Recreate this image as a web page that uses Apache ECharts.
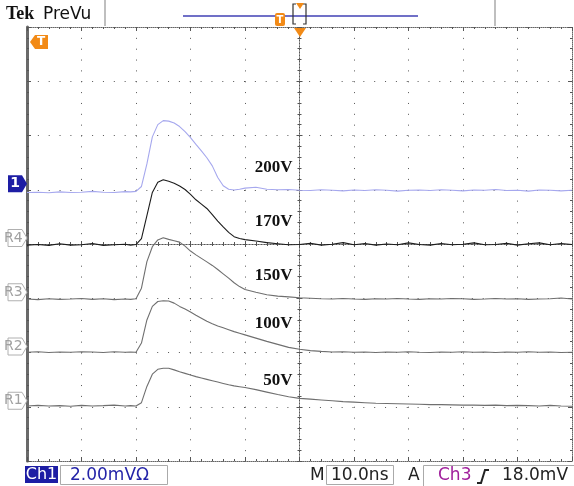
<!DOCTYPE html>
<html>
<head>
<meta charset="utf-8">
<script src="https://cdn.jsdelivr.net/npm/echarts@6/dist/echarts.min.js"></script>
<style>
html,body{margin:0;padding:0;background:#fff;}
#chart{width:574px;height:486px;}
</style>
</head>
<body>
<div id="chart"></div>
<script>
// Sample times (ns), relative to the trigger point at screen centre
const timeNs = [-50,-48,-46,-44,-42,-40,-38,-36,-34,-32,
  -31,-30,-29,-28,-27,-26,-25,-24,-23,-22,-21,-20,-19,-18,-17,-16,-15,-14,-13,-12,-11,-10,
  -8,-6,-4,-2,0,2,4,6,8,10,12,14,16,18,20,22,24,26,28,30,32,34,36,38,40,42,44,46,48,50];

// Pulse amplitude (mV) for each bias voltage
const pulse200V = [-0.10,-0.09,-0.11,-0.08,-0.10,-0.09,-0.06,-0.09,-0.10,-0.07,
  -0.08,-0.06,0.12,0.95,1.95,2.40,2.55,2.53,2.46,2.33,2.14,1.92,1.67,1.43,1.18,0.88,0.45,0.15,0.02,-0.01,0.02,0.06,
  0.09,0.02,0.00,0.01,-0.02,-0.03,0.00,-0.02,-0.04,-0.01,-0.03,0.00,-0.02,-0.05,-0.02,-0.01,-0.03,0.00,-0.02,-0.04,-0.01,-0.02,0.01,-0.03,-0.02,-0.05,-0.01,-0.02,-0.04,-0.02];

const pulse170V = [-0.04,-0.02,-0.05,0.01,-0.04,-0.03,0.02,-0.05,-0.03,-0.01,
  -0.04,-0.02,0.20,1.05,1.90,2.28,2.37,2.31,2.24,2.14,2.01,1.83,1.63,1.47,1.31,1.08,0.84,0.63,0.43,0.27,0.20,0.16,
  0.11,0.05,0.01,-0.03,-0.02,0.03,-0.04,-0.01,0.05,-0.03,0.02,-0.04,0.00,-0.03,0.04,-0.02,-0.04,0.02,-0.03,-0.01,0.04,-0.03,-0.02,0.03,-0.04,0.01,0.04,-0.03,0.02,-0.02];

const pulse150V = [-0.03,-0.05,-0.02,-0.04,-0.03,-0.01,-0.04,-0.02,-0.05,-0.03,
  -0.04,-0.02,0.37,1.35,1.90,2.15,2.23,2.17,2.12,2.07,1.92,1.74,1.60,1.47,1.34,1.21,1.06,0.90,0.74,0.57,0.43,0.32,
  0.22,0.13,0.08,0.05,0.02,0.00,-0.02,-0.03,-0.01,-0.03,-0.04,-0.02,-0.03,-0.01,-0.03,-0.04,-0.02,-0.03,-0.01,-0.02,-0.04,-0.03,-0.01,-0.03,-0.02,-0.04,-0.03,-0.02,0.01,-0.03];

const pulse100V = [0.01,0.03,0.00,0.02,0.01,0.03,0.02,0.00,0.03,0.01,
  0.02,0.01,0.35,1.20,1.70,1.88,1.91,1.90,1.82,1.70,1.60,1.49,1.37,1.26,1.15,1.06,0.98,0.91,0.84,0.77,0.71,0.65,
  0.53,0.41,0.30,0.19,0.12,0.07,0.04,0.02,0.03,0.01,0.02,0.00,0.02,0.01,0.03,0.01,0.00,0.02,0.01,0.03,0.01,0.02,0.00,0.02,0.01,0.03,0.01,0.02,0.00,0.01];

const pulse50V = [0.03,0.05,0.03,0.04,0.02,0.05,0.03,0.04,0.06,0.03,
  0.04,0.03,0.15,0.75,1.20,1.38,1.42,1.42,1.36,1.29,1.23,1.17,1.11,1.06,1.01,0.96,0.91,0.86,0.81,0.77,0.74,0.71,
  0.63,0.54,0.45,0.37,0.31,0.28,0.25,0.22,0.19,0.17,0.15,0.13,0.12,0.11,0.10,0.09,0.08,0.08,0.07,0.06,0.06,0.05,0.06,0.04,0.05,0.04,0.03,0.05,0.03,0.02];

const voltageLabels = ['200V', '170V', '150V', '100V', '50V'];
const channelTags = ['1', 'R4', 'R3', 'R2', 'R1'];
const groundLevels = [2, 0, -2, -4, -6];   // mV, screen position of each trace's ground
const pulses = [pulse200V, pulse170V, pulse150V, pulse100V, pulse50V];

// Drawing style per trace
const traceColors = ['#a6a8ee', '#1c1c1c', '#6f6f6f', '#6f6f6f', '#6f6f6f'];
const labelLift = [0.82, 0.81, 0.82, 1.05, 0.95];
const labelTime = -1.3;

const GRID = { left: 27, top: 27, width: 545, height: 434 };
const DOT = '#555';

const chart = echarts.init(document.getElementById('chart'), null, { renderer: 'canvas' });

function borderX(pos, withSplit, gridIndex) {
  return {
    type: 'value', gridIndex: gridIndex, min: -50, max: 50, interval: 10, position: pos,
    axisLine: { show: true, onZero: false, lineStyle: { color: '#666', width: 1, type: [1, 1] } },
    axisTick: { show: true, inside: true, length: 4, lineStyle: { color: DOT } },
    minorTick: { show: true, splitNumber: 5, length: 2, lineStyle: { color: DOT } },
    axisLabel: { show: false },
    splitLine: { show: withSplit, lineStyle: { color: DOT, width: 1, type: [1, 9.85] } }
  };
}
function borderY(pos, withSplit, gridIndex, lineW, lineC) {
  return {
    type: 'value', gridIndex: gridIndex, min: -8, max: 8, interval: 2, position: pos,
    axisLine: { show: true, onZero: false, lineStyle: { color: lineC, width: lineW, type: lineW > 1 ? 'solid' : [1, 1] } },
    axisTick: { show: true, inside: true, length: 4, lineStyle: { color: DOT } },
    minorTick: { show: true, splitNumber: 5, length: 2, lineStyle: { color: DOT } },
    axisLabel: { show: false },
    splitLine: { show: withSplit, lineStyle: { color: DOT, width: 1, type: [1, 9.85] } }
  };
}
function centreX(gridIndex, inside) {
  return {
    type: 'value', gridIndex: gridIndex, min: -50, max: 50, interval: 10,
    axisLine: { show: true, onZero: true, lineStyle: { color: DOT, width: 1, type: [1, 2] } },
    axisTick: { show: true, inside: inside, length: 3, lineStyle: { color: DOT } },
    minorTick: { show: true, splitNumber: 5, length: 2, lineStyle: { color: DOT } },
    axisLabel: { show: false }, splitLine: { show: false }
  };
}
function centreY(gridIndex, inside) {
  return {
    type: 'value', gridIndex: gridIndex, min: -8, max: 8, interval: 2,
    axisLine: { show: true, onZero: true, lineStyle: { color: DOT, width: 1, type: [1, 2] } },
    axisTick: { show: true, inside: inside, length: 3, lineStyle: { color: DOT } },
    minorTick: { show: true, splitNumber: 5, length: 2, lineStyle: { color: DOT } },
    axisLabel: { show: false }, splitLine: { show: false }
  };
}

const series = pulses.map(function (vals, i) {
  const g = groundLevels[i];
  return {
    name: voltageLabels[i],
    type: 'line',
    xAxisIndex: 0, yAxisIndex: 0,
    data: timeNs.map(function (t, k) { return [t, g + vals[k]]; }),
    showSymbol: false, symbol: 'none',
    lineStyle: { color: traceColors[i], width: 1.1 },
    z: 5,
    markPoint: {
      silent: true, symbol: 'circle', symbolSize: 0, animation: false,
      data: [{
        coord: [labelTime, g + labelLift[i]],
        label: {
          show: true, formatter: voltageLabels[i], position: 'inside',
          align: 'right', verticalAlign: 'middle',
          color: '#111', fontFamily: 'Liberation Serif', fontWeight: 'bold', fontSize: 17
        }
      }]
    }
  };
});

const option = {
  backgroundColor: '#ffffff',
  animation: false,
  grid: [
    Object.assign({ containLabel: false }, GRID),
    Object.assign({ containLabel: false }, GRID),
    Object.assign({ containLabel: false }, GRID)
  ],
  xAxis: [
    borderX('bottom', true, 0),
    borderX('top', false, 0),
    centreX(1, true),
    centreX(2, false)
  ],
  yAxis: [
    borderY('left', true, 0, 3, '#6a6a6a'),
    borderY('right', false, 0, 1, '#666'),
    centreY(1, true),
    centreY(2, false)
  ],
  series: series
};
chart.setOption(option);

// Screen furniture: header, trigger markers, channel tags and status bar
const ORANGE = '#f28a16';
const graphics = [
  { type: 'text', left: 6, top: 5, style: { text: 'Tek', font: 'bold 18px "Liberation Serif"', fill: '#111' } },
  { type: 'text', left: 43, top: 6, style: { text: 'PreVu', font: '17px "DejaVu Sans"', fill: '#111' } },
  { type: 'line', shape: { x1: 105, y1: 0, x2: 105, y2: 26 }, style: { stroke: '#aaa', lineWidth: 1.5 } },
  { type: 'line', shape: { x1: 495, y1: 0, x2: 495, y2: 26 }, style: { stroke: '#aaa', lineWidth: 1.5 } },
  { type: 'line', shape: { x1: 183, y1: 16, x2: 418, y2: 16 }, style: { stroke: '#4040b4', lineWidth: 1.5 } },
  { type: 'rect', shape: { x: 275, y: 13, width: 10, height: 13, r: 2 }, style: { fill: ORANGE } },
  { type: 'text', x: 280, y: 20, style: { text: 'T', font: 'bold 10px "DejaVu Sans"', fill: '#fff', align: 'center', verticalAlign: 'middle' } },
  { type: 'polyline', shape: { points: [[296, 4], [293, 4], [293, 24], [296, 24]] }, style: { stroke: '#333', lineWidth: 1.2, fill: null } },
  { type: 'polyline', shape: { points: [[303, 4], [306, 4], [306, 24], [303, 24]] }, style: { stroke: '#333', lineWidth: 1.2, fill: null } },
  { type: 'polygon', shape: { points: [[296, 3], [304, 3], [300, 9]] }, style: { fill: ORANGE } },
  { type: 'polygon', shape: { points: [[294, 28], [306, 28], [300, 37]] }, style: { fill: ORANGE }, z: 10 },
  // trigger level tag
  { type: 'polygon', shape: { points: [[30, 42], [35, 35], [48, 35], [48, 49], [35, 49]] }, style: { fill: ORANGE }, z: 10 },
  { type: 'text', x: 41, y: 42, style: { text: 'T', font: 'bold 12px "DejaVu Sans"', fill: '#fff', align: 'center', verticalAlign: 'middle' }, z: 11 },
  // status bar
  { type: 'rect', shape: { x: 25, y: 466, width: 33, height: 17 }, style: { fill: '#1d1da4' } },
  { type: 'text', x: 41.5, y: 475, style: { text: 'Ch1', font: '16px "DejaVu Sans"', fill: '#fff', align: 'center', verticalAlign: 'middle' } },
  { type: 'rect', shape: { x: 60.5, y: 465.5, width: 107, height: 19 }, style: { fill: null, stroke: '#aaa', lineWidth: 1 } },
  { type: 'text', x: 70, y: 476, style: { text: '2.00mVΩ', font: '17px "DejaVu Sans"', fill: '#2424a8', verticalAlign: 'middle' } },
  { type: 'text', x: 310, y: 476, style: { text: 'M', font: '17px "DejaVu Sans"', fill: '#222', verticalAlign: 'middle' } },
  { type: 'rect', shape: { x: 326.5, y: 465.5, width: 67, height: 19 }, style: { fill: null, stroke: '#aaa', lineWidth: 1 } },
  { type: 'text', x: 331, y: 476, style: { text: '10.0ns', font: '17px "DejaVu Sans"', fill: '#222', verticalAlign: 'middle' } },
  { type: 'text', x: 408, y: 476, style: { text: 'A', font: '17px "DejaVu Sans"', fill: '#222', verticalAlign: 'middle' } },
  { type: 'polyline', shape: { points: [[423.5, 486], [423.5, 465.5], [574, 465.5]] }, style: { stroke: '#aaa', lineWidth: 1, fill: null } },
  { type: 'text', x: 438, y: 476, style: { text: 'Ch3', font: '17px "DejaVu Sans"', fill: '#a0209c', verticalAlign: 'middle' } },
  { type: 'polyline', shape: { points: [[477, 483], [481, 483], [485, 470], [489, 470]] }, style: { stroke: '#222', lineWidth: 2, fill: null } },
  { type: 'text', x: 502, y: 476, style: { text: '18.0mV', font: '17px "DejaVu Sans"', fill: '#222', verticalAlign: 'middle' } }
];

// Channel / reference tags sit at each trace's ground level on the left edge
groundLevels.forEach(function (g, i) {
  const p = chart.convertToPixel({ xAxisIndex: 0, yAxisIndex: 0 }, [-50, g]);
  const cy = p[1] - 6;
  const live = i === 0;
  graphics.push({
    type: 'polygon',
    shape: { points: [[8, cy - 8.5], [22, cy - 8.5], [27, cy], [22, cy + 8.5], [8, cy + 8.5]] },
    style: live ? { fill: '#1d1da4' } : { fill: '#fff', stroke: '#b0b0b0', lineWidth: 1 },
    z: 10
  });
  graphics.push({
    type: 'text', x: live ? 15 : 4, y: cy,
    style: {
      text: channelTags[i], font: (live ? 'bold ' : '') + '14px "DejaVu Sans"',
      fill: live ? '#fff' : '#a0a0a0', align: live ? 'center' : 'left', verticalAlign: 'middle'
    },
    z: 11
  });
});

chart.setOption({ graphic: graphics });
</script>
</body>
</html>
